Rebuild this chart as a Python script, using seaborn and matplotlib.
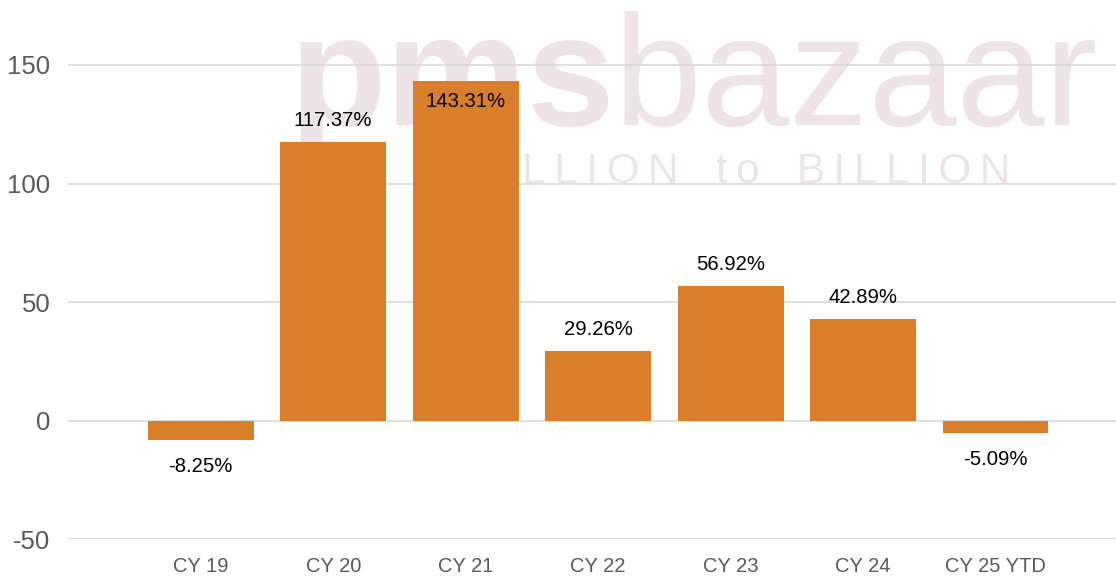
import matplotlib
matplotlib.use("Agg")
import matplotlib.pyplot as plt
import seaborn as sns
import pandas as pd
from matplotlib import font_manager

# ---- data ----
categories = ["CY 19", "CY 20", "CY 21", "CY 22", "CY 23", "CY 24", "CY 25 YTD"]
returns = [-8.25, 117.37, 143.31, 29.26, 56.92, 42.89, -5.09]
y_ticks = [-50, 0, 50, 100, 150]

BAR = "#D97F2B"
GRID = "#D9D9D9"
TICK = "#595959"
WM = "#EEE3E6"

sns.set_theme(style="white")
plt.rcParams["font.family"] = ["Liberation Sans", "DejaVu Sans"]

W, H, DPI = 1116, 577, 100
fig = plt.figure(figsize=(W / DPI, H / DPI), dpi=DPI)
ax = fig.add_axes([68.3 / W, (H - 539.3) / H, 1 - 68.3 / W, 539.3 / H])

df = pd.DataFrame({"cat": categories, "ret": returns})
sns.barplot(data=df, x="cat", y="ret", order=categories, color=BAR,
            saturation=1, width=0.8, ax=ax, zorder=2)
for p in ax.patches:
    p.set_edgecolor("none")

ymax = 420.7 / 2.372
ax.set_ylim(-50, ymax)
ax.set_xlim(-1.0, (W - 200.8) / 132.45)
ax.set_yticks(y_ticks)
ax.set_yticklabels([str(v) for v in y_ticks])
ax.set_xlabel("")
ax.set_ylabel("")
ax.set_axisbelow(True)
ax.grid(axis="y", color=GRID, linewidth=1.2)
ax.grid(axis="x", visible=False)
for s in ax.spines.values():
    s.set_visible(False)
ax.tick_params(axis="y", length=0, pad=13, labelsize=18.5, labelcolor=TICK)
ax.tick_params(axis="x", length=0, pad=12.5, labelsize=14.5, labelcolor=TICK)

# ---- data labels ----
for i, v in enumerate(returns):
    label = f"{v:.2f}%"
    if v >= 0:
        if v + 40 > ymax:
            off = -26  # no room above: put inside the bar, below its top
        else:
            off = 16
    else:
        off = -32
    ax.annotate(label, xy=(i, v), xytext=(0, off), textcoords="offset pixels",
                ha="center", va="baseline", fontsize=14.6, color="#000000",
                zorder=5)

# ---- watermark ----
def has_font(name):
    try:
        font_manager.findfont(font_manager.FontProperties(family=name),
                              fallback_to_default=False)
        return True
    except Exception:
        return False

if has_font("Liberation Sans Narrow"):
    wm_family = ["Liberation Sans Narrow", "Liberation Sans"]
    wm_size = 139
else:
    wm_family = ["Liberation Sans", "DejaVu Sans"]
    wm_size = 114

tr = fig.transFigure
ax.text(290 / W, (H - 125) / H, "pms", transform=tr, family=wm_family,
        fontsize=wm_size, fontweight="bold", color=WM, ha="left",
        va="baseline", zorder=0, clip_on=False)
ax.text(1098 / W, (H - 125) / H, "bazaar", transform=tr, family=wm_family,
        fontsize=wm_size, color=WM, ha="right", va="baseline", zorder=0,
        clip_on=False)
thin = "\u2009"
def spaced(word):
    return thin.join(word)
tagline = (spaced("MILLION") + thin + " " + thin + thin + spaced("to")
           + thin + " " + thin + thin + spaced("BILLION"))
ax.text(1010 / W, (H - 183) / H, tagline, transform=tr,
        family=["Liberation Sans", "DejaVu Sans"], fontsize=30.5, color=WM,
        ha="right", va="baseline", zorder=0, clip_on=False)

fig.savefig("out.png", dpi=DPI)
